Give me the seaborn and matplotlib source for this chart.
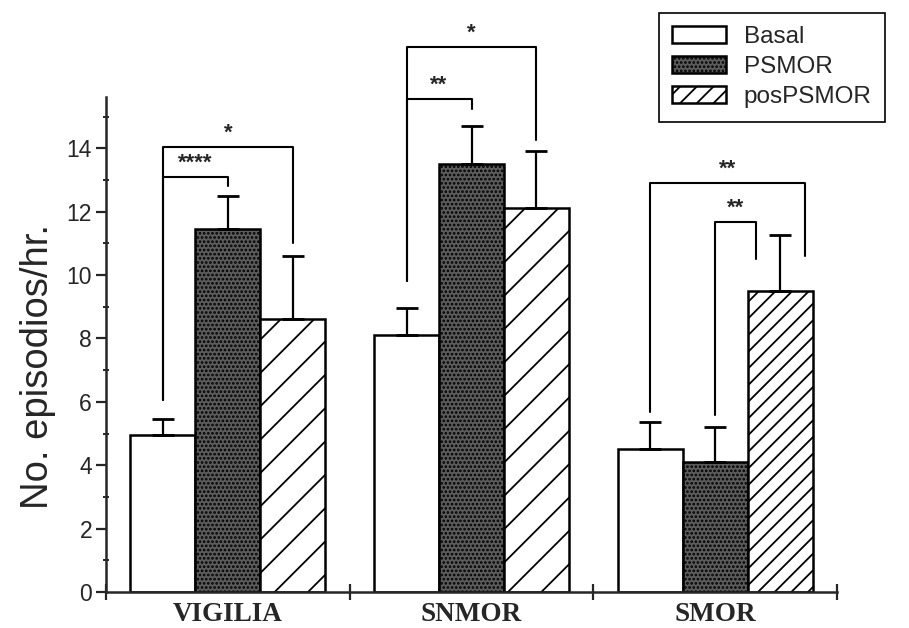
import numpy as np
import pandas as pd
import matplotlib
matplotlib.use('Agg')
import matplotlib.pyplot as plt
import seaborn as sns

# valores
groups = ['VIGILIA', 'SNMOR', 'SMOR']
series = ['Basal', 'PSMOR', 'posPSMOR']
basal = [4.95, 8.1, 4.5]
psmor = [11.45, 13.5, 4.1]
pospsmor = [8.6, 12.1, 9.5]
basal_err = [0.5, 0.85, 0.85]
psmor_err = [1.05, 1.2, 1.1]
pospsmor_err = [2.0, 1.8, 1.75]

# corchetes de significancia: grupo, barra a, barra b, altura, fin de patas, texto
sig_group = [0, 0, 1, 1, 2, 2]
sig_a = [0, 0, 0, 0, 0, 1]
sig_b = [2, 1, 2, 1, 2, 2]
sig_y = [14.05, 13.1, 17.2, 15.55, 12.9, 11.67]
sig_end_a = [6.05, 6.05, 9.8, 9.8, 5.68, 5.58]
sig_end_b = [11.0, 12.8, 14.25, 15.25, 10.6, 10.5]
sig_text = ['*', '****', '*', '**', '**', '**']

sns.set_style('ticks')
plt.rcParams['font.family'] = ['Liberation Sans', 'DejaVu Sans']
plt.rcParams['hatch.linewidth'] = 1.3

df = pd.DataFrame({
    'grupo': groups * 3,
    'serie': np.repeat(series, 3),
    'valor': basal + psmor + pospsmor,
})

fig = plt.figure(figsize=(9.09, 6.28), dpi=100)
ax = fig.add_axes([106 / 909, 36 / 628, 731 / 909, 494.5 / 628])

sns.barplot(data=df, x='grupo', y='valor', hue='serie', order=groups,
            hue_order=series, errorbar=None, width=0.8, legend=False, ax=ax)

bars = list(ax.containers)
styles = [('white', [None, None, None]),
          ('#5c5c5c', ['....', '....', '....']),
          ('white', ['/', '/', '//'])]
all_err = [basal_err, psmor_err, pospsmor_err]
all_mean = [basal, psmor, pospsmor]
centers = []
for cont, (fc, hatches), m, e in zip(bars, styles, all_mean, all_err):
    xs = []
    for p, h in zip(cont, hatches):
        p.set_facecolor(fc)
        p.set_edgecolor('black')
        p.set_linewidth(1.8)
        p.set_hatch(h)
        xs.append(p.get_x() + p.get_width() / 2)
    centers.append(xs)
    ax.errorbar(xs, m, yerr=[np.zeros(len(e)), e], fmt='none', ecolor='black',
                elinewidth=1.6, capsize=8, capthick=2, zorder=3)

# corrimiento de las patas derechas en SMOR
shift_b = [0, 0, 0, 0, 0.1, -0.1]
for g, a, b, y, ea, eb, t, sb in zip(sig_group, sig_a, sig_b, sig_y, sig_end_a,
                                      sig_end_b, sig_text, shift_b):
    xa = centers[a][g]
    xb = centers[b][g] + sb
    ax.plot([xa, xa, xb, xb], [ea, y, y, eb], color='black', lw=1.5,
            clip_on=False, zorder=4)
    ax.text((xa + xb) / 2, y + 0.1, t, ha='center', va='bottom',
            fontsize=16, fontweight='bold', clip_on=False)

ax.set_xlim(-0.5, 2.5)
ax.set_ylim(0, 15.6)
ax.set_yticks(np.arange(0, 15, 2))
ax.set_yticks(np.arange(0, 16, 1), minor=True)
ax.set_xticks([0, 1, 2])
ax.set_xticks([-0.5, 0.5, 1.5, 2.5], minor=True)
ax.set_xticklabels(groups, fontfamily='Liberation Serif', fontweight='bold',
                   fontsize=19.5)
ax.tick_params(axis='x', which='major', length=0, pad=7.5)
ax.tick_params(axis='x', which='minor', direction='inout', length=12, width=1.6)
ax.tick_params(axis='y', which='major', direction='out', length=7, width=1.6,
               labelsize=16.5, pad=3)
ax.tick_params(axis='y', which='minor', direction='inout', length=5, width=1.4)
ax.set_xlabel('')
ax.set_ylabel('No. episodios/hr.', fontsize=27.5)
ax.yaxis.set_label_coords(-0.069, 0.457)
for s in ['left', 'bottom']:
    ax.spines[s].set_linewidth(1.8)
sns.despine(ax=ax)

handles = [cont.patches[2] for cont in bars]
fig.legend(handles, series, loc='upper right',
           bbox_to_anchor=(885 / 909, 1 - 13 / 628), fontsize=17.5,
           frameon=True, fancybox=False, edgecolor='black', framealpha=1,
           handlelength=2.2, handleheight=0.7, handletextpad=0.75,
           labelspacing=0.33, borderpad=0.55, borderaxespad=0)
fig.legends[0].get_frame().set_linewidth(1.2)

fig.savefig('out.png', dpi=100)
